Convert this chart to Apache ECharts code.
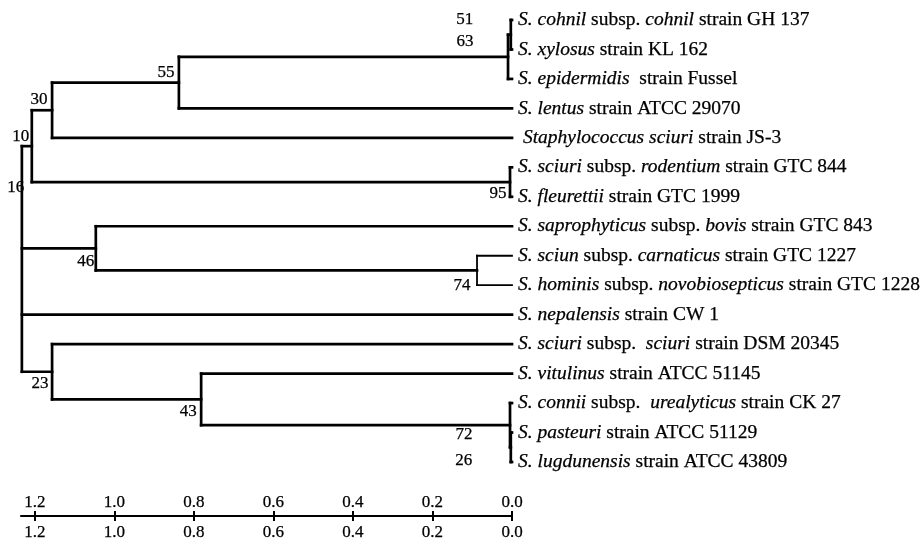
<!DOCTYPE html>
<html>
<head>
<meta charset="utf-8">
<script src="https://cdn.jsdelivr.net/npm/echarts@6/dist/echarts.min.js"></script>
<style>
  html, body { margin: 0; padding: 0; background: #ffffff; }
  #chart { width: 923px; height: 539px; }
</style>
</head>
<body>
<div id="chart"></div>
<script>
// Leaf taxa, top to bottom ({i|...} marks the italic parts of each name)
const leafLabels = [
  '{i|S. cohnil} subsp. {i|cohnil} strain GH 137',
  '{i|S. xylosus} strain KL 162',
  '{i|S. epidermidis}  strain Fussel',
  '{i|S. lentus} strain ATCC 29070',
  ' {i|Staphylococcus sciuri} strain JS-3',
  '{i|S. sciuri} subsp. {i|rodentium} strain GTC 844',
  '{i|S. fleurettii} strain GTC 1999',
  '{i|S. saprophyticus} subsp. {i|bovis} strain GTC 843',
  '{i|S. sciun} subsp. {i|carnaticus} strain GTC 1227',
  '{i|S. hominis} subsp. {i|novobiosepticus} strain GTC 1228',
  '{i|S. nepalensis} strain CW 1',
  '{i|S. sciuri} subsp.  {i|sciuri} strain DSM 20345',
  '{i|S. vitulinus} strain ATCC 51145',
  '{i|S. connii} subsp.  {i|urealyticus} strain CK 27',
  '{i|S. pasteuri} strain ATCC 51129',
  '{i|S. lugdunensis} strain ATCC 43809'
];

// Internal nodes: id, height (distance from tips), children (numbers = leaf index), bootstrap support
const cladeIds      = ['c1', 'c2', 'c3', 'c4', 'c5', 'c6', 'c7', 'c8', 'c9', 'c10', 'c11', 'c12', 'root'];
const cladeHeights  = [0.003, 0.010, 0.838, 1.157, 0.005, 1.208, 0.088, 1.047, 0.003, 0.005, 0.782, 1.157, 1.233];
const cladeChildren = [
  [0, 1], ['c1', 2], ['c2', 3], ['c3', 4], [5, 6], ['c4', 'c5'],
  [8, 9], [7, 'c7'], [14, 15], [13, 'c9'], [12, 'c10'], [11, 'c11'],
  ['c6', 'c8', 10, 'c12']
];
const cladeSupport  = [51, 63, 55, 30, 95, 10, 74, 46, 26, 72, 43, 23, 16];

// Scale bar ticks
const scaleTicks = [1.2, 1.0, 0.8, 0.6, 0.4, 0.2, 0.0];

// Where each support value sits relative to its node (pixels)
const supportOffset = {
  c1: [-46, -15], c2: [-43, -15], c3: [-13, -10], c4: [-13, -11], c5: [-12, 11],
  c6: [-11, -10], c7: [-15, 15], c8: [-10, 13], c9: [-47, 13], c10: [-46, 9],
  c11: [-13, 12], c12: [-12, 12], root: [-6, -71]
};
const thinClades = { c7: true };

const FONT = 'Liberation Serif, Times New Roman, serif';
const LEAF_SIZE = 19.5;
const NUM_SIZE = 17;
const INK = '#000';
const HEAVY = 0.25;   // slight stroke so the glyphs print a little heavier
const X_MAX = 1.2352;

const idx = {};
cladeIds.forEach((id, i) => { idx[id] = i; });
function nodeY(n) {
  if (typeof n === 'number') return n;
  const ys = cladeChildren[idx[n]].map(nodeY);
  return (Math.min(...ys) + Math.max(...ys)) / 2;
}
function nodeH(n) {
  return typeof n === 'number' ? 0 : cladeHeights[idx[n]];
}

// Branch segments: [x1, y1, x2, y2, thin]
const segments = [];
cladeIds.forEach((id, i) => {
  const h = cladeHeights[i];
  const ys = cladeChildren[i].map(nodeY);
  const thin = thinClades[id] ? 1 : 0;
  segments.push([h, Math.min(...ys), h, Math.max(...ys), thin]);
  cladeChildren[i].forEach((c, k) => {
    segments.push([h, ys[k], nodeH(c), ys[k], thin]);
  });
});

const supportData = cladeIds.map((id, i) => [cladeHeights[i], nodeY(id), cladeSupport[i], supportOffset[id][0], supportOffset[id][1]]);
const leafData = leafLabels.map((t, i) => [0, i]);

const chart = echarts.init(document.getElementById('chart'), null, { renderer: 'canvas' });

const scaleLabel = (margin) => ({
  show: true, customValues: scaleTicks, margin: margin,
  formatter: v => v.toFixed(1), color: INK, fontFamily: FONT, fontSize: NUM_SIZE,
  textBorderColor: INK, textBorderWidth: HEAVY,
  showMinLabel: true, showMaxLabel: true
});

const option = {
  backgroundColor: '#ffffff',
  animation: false,
  grid: [
    { left: 21, right: 411, top: 20, height: 442 },
    { left: 21, right: 411, top: 516, height: 0 }
  ],
  xAxis: [
    { gridIndex: 0, type: 'value', min: 0, max: X_MAX, inverse: true, show: false },
    {
      gridIndex: 1, type: 'value', min: 0, max: X_MAX, inverse: true, position: 'bottom',
      axisLine: { show: true, onZero: false, lineStyle: { color: INK, width: 2.2 } },
      axisTick: { show: true, inside: false, length: 5, customValues: scaleTicks, lineStyle: { color: INK, width: 2 } },
      axisLabel: scaleLabel(8),
      splitLine: { show: false }
    },
    {
      gridIndex: 1, type: 'value', min: 0, max: X_MAX, inverse: true, position: 'top',
      axisLine: { show: false },
      axisTick: { show: true, inside: false, length: 5, customValues: scaleTicks, lineStyle: { color: INK, width: 2 } },
      axisLabel: scaleLabel(5),
      splitLine: { show: false }
    }
  ],
  yAxis: [
    { gridIndex: 0, type: 'value', min: 0, max: 15, inverse: true, show: false },
    { gridIndex: 1, type: 'value', min: 0, max: 1, show: false }
  ],
  series: [
    {
      // tree branches
      type: 'custom',
      xAxisIndex: 0, yAxisIndex: 0,
      data: segments,
      encode: { x: [0, 2], y: [1, 3] },
      silent: true,
      renderItem: function (params, api) {
        const p1 = api.coord([api.value(0), api.value(1)]);
        const p2 = api.coord([api.value(2), api.value(3)]);
        return {
          type: 'line',
          shape: { x1: p1[0], y1: p1[1], x2: p2[0], y2: p2[1] },
          style: { stroke: INK, lineWidth: api.value(4) ? 1.8 : 2.7, lineCap: 'square' }
        };
      }
    },
    {
      // taxon names at the tips
      type: 'custom',
      xAxisIndex: 0, yAxisIndex: 0,
      data: leafData,
      encode: { x: 0, y: 1 },
      silent: true,
      renderItem: function (params, api) {
        const p = api.coord([api.value(0), api.value(1)]);
        return {
          type: 'text',
          x: p[0] + 6, y: p[1],
          style: {
            text: leafLabels[params.dataIndex],
            fill: INK,
            fontFamily: FONT, fontSize: LEAF_SIZE,
            stroke: INK, lineWidth: HEAVY,
            align: 'left', verticalAlign: 'middle',
            rich: {
              i: { fontStyle: 'italic', fontFamily: FONT, fontSize: LEAF_SIZE, fill: INK, stroke: INK, lineWidth: HEAVY }
            }
          }
        };
      }
    },
    {
      // bootstrap support values
      type: 'custom',
      xAxisIndex: 0, yAxisIndex: 0,
      data: supportData,
      encode: { x: 0, y: 1 },
      silent: true,
      renderItem: function (params, api) {
        const p = api.coord([api.value(0), api.value(1)]);
        return {
          type: 'text',
          x: p[0] + api.value(3), y: p[1] + api.value(4),
          style: {
            text: String(api.value(2)),
            fill: INK,
            fontFamily: FONT, fontSize: NUM_SIZE,
            stroke: INK, lineWidth: HEAVY,
            align: 'center', verticalAlign: 'middle'
          }
        };
      }
    }
  ]
};

chart.setOption(option);
</script>
</body>
</html>
